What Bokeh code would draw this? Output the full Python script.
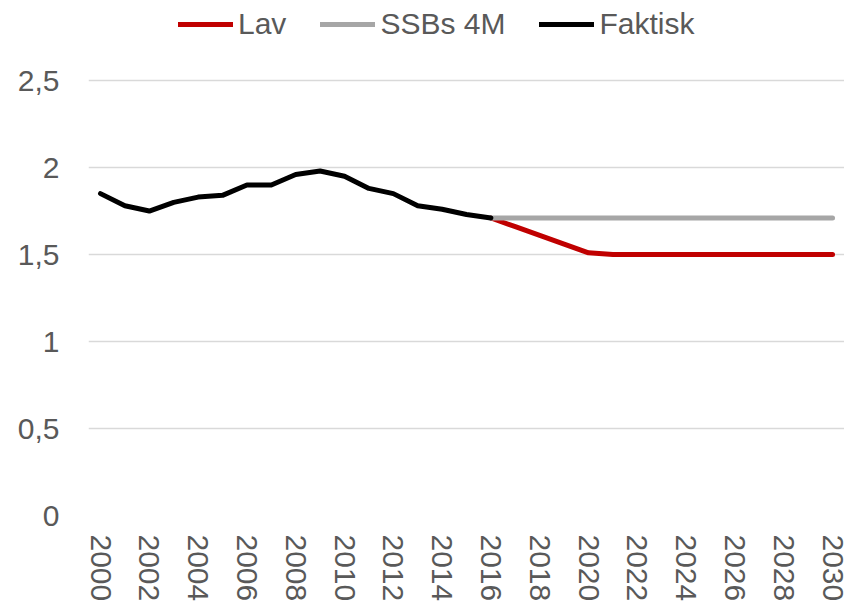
import math
from bokeh.plotting import figure
from bokeh.models import Range1d, FixedTicker, Legend, LegendItem
from bokeh.embed import file_html
from bokeh.resources import INLINE

# ---- data ----
years_faktisk = list(range(2000, 2017))
faktisk = [1.85, 1.78, 1.75, 1.80, 1.83, 1.84, 1.90, 1.90, 1.96, 1.98,
           1.95, 1.88, 1.85, 1.78, 1.76, 1.73, 1.71]

years_proj = list(range(2016, 2031))
ssb_4m = [1.71] * 15
lav = [1.71, 1.66, 1.61, 1.56, 1.51, 1.50, 1.50, 1.50, 1.50, 1.50,
       1.50, 1.50, 1.50, 1.50, 1.50]

x_ticks = list(range(2000, 2031, 2))
y_ticks = [0, 0.5, 1, 1.5, 2, 2.5]
y_tick_labels = ["0", "0,5", "1", "1,5", "2", "2,5"]

FONT = "Liberation Sans"
TXT = "#595959"

p = figure(width=844, height=606,
           x_range=Range1d(1999.508, 2030.49), y_range=Range1d(0, 2.96),
           output_backend="svg", toolbar_location=None,
           min_border_left=88, min_border_right=0,
           min_border_top=0, min_border_bottom=91)
p.outline_line_color = None
p.background_fill_color = "white"
p.border_fill_color = "white"

r_lav = p.line(years_proj, lav, line_color="#C00000", line_width=5,
               line_cap="round", line_join="round")
r_ssb = p.line(years_proj, ssb_4m, line_color="#A6A6A6", line_width=5,
               line_cap="round", line_join="round")
r_fak = p.line(years_faktisk, faktisk, line_color="#000000", line_width=5,
               line_cap="round", line_join="round")

p.xgrid.grid_line_color = None
p.ygrid.grid_line_color = "#D9D9D9"
p.ygrid.grid_line_width = 1.5
p.ygrid.ticker = FixedTicker(ticks=y_ticks)

yax = p.yaxis[0]
yax.ticker = FixedTicker(ticks=y_ticks)
yax.major_label_overrides = {t: l for t, l in zip(y_ticks, y_tick_labels)}
yax.axis_line_color = None
yax.major_tick_line_color = None
yax.minor_tick_line_color = None
yax.major_label_standoff = 23
yax.major_label_text_font = FONT
yax.major_label_text_font_size = "30px"
yax.major_label_text_color = TXT

xax = p.xaxis[0]
xax.ticker = FixedTicker(ticks=x_ticks)
xax.major_label_overrides = {t: str(t) for t in x_ticks}
xax.axis_line_color = None
xax.major_tick_line_color = None
xax.minor_tick_line_color = None
xax.major_label_orientation = -math.pi / 2
xax.major_label_standoff = 13
xax.major_label_text_font = FONT
xax.major_label_text_font_size = "30px"
xax.major_label_text_color = TXT

legend = Legend(items=[LegendItem(label="Lav", renderers=[r_lav]),
                       LegendItem(label="SSBs 4M", renderers=[r_ssb]),
                       LegendItem(label="Faktisk", renderers=[r_fak])],
                orientation="horizontal", location=(90, 474),
                glyph_width=55, glyph_height=30, label_standoff=5,
                spacing=34, padding=0, margin=0,
                border_line_color=None, background_fill_alpha=0,
                label_text_font=FONT, label_text_font_size="30px",
                label_text_color=TXT)
p.add_layout(legend)

open("out.html", "w").write(file_html(p, INLINE))
